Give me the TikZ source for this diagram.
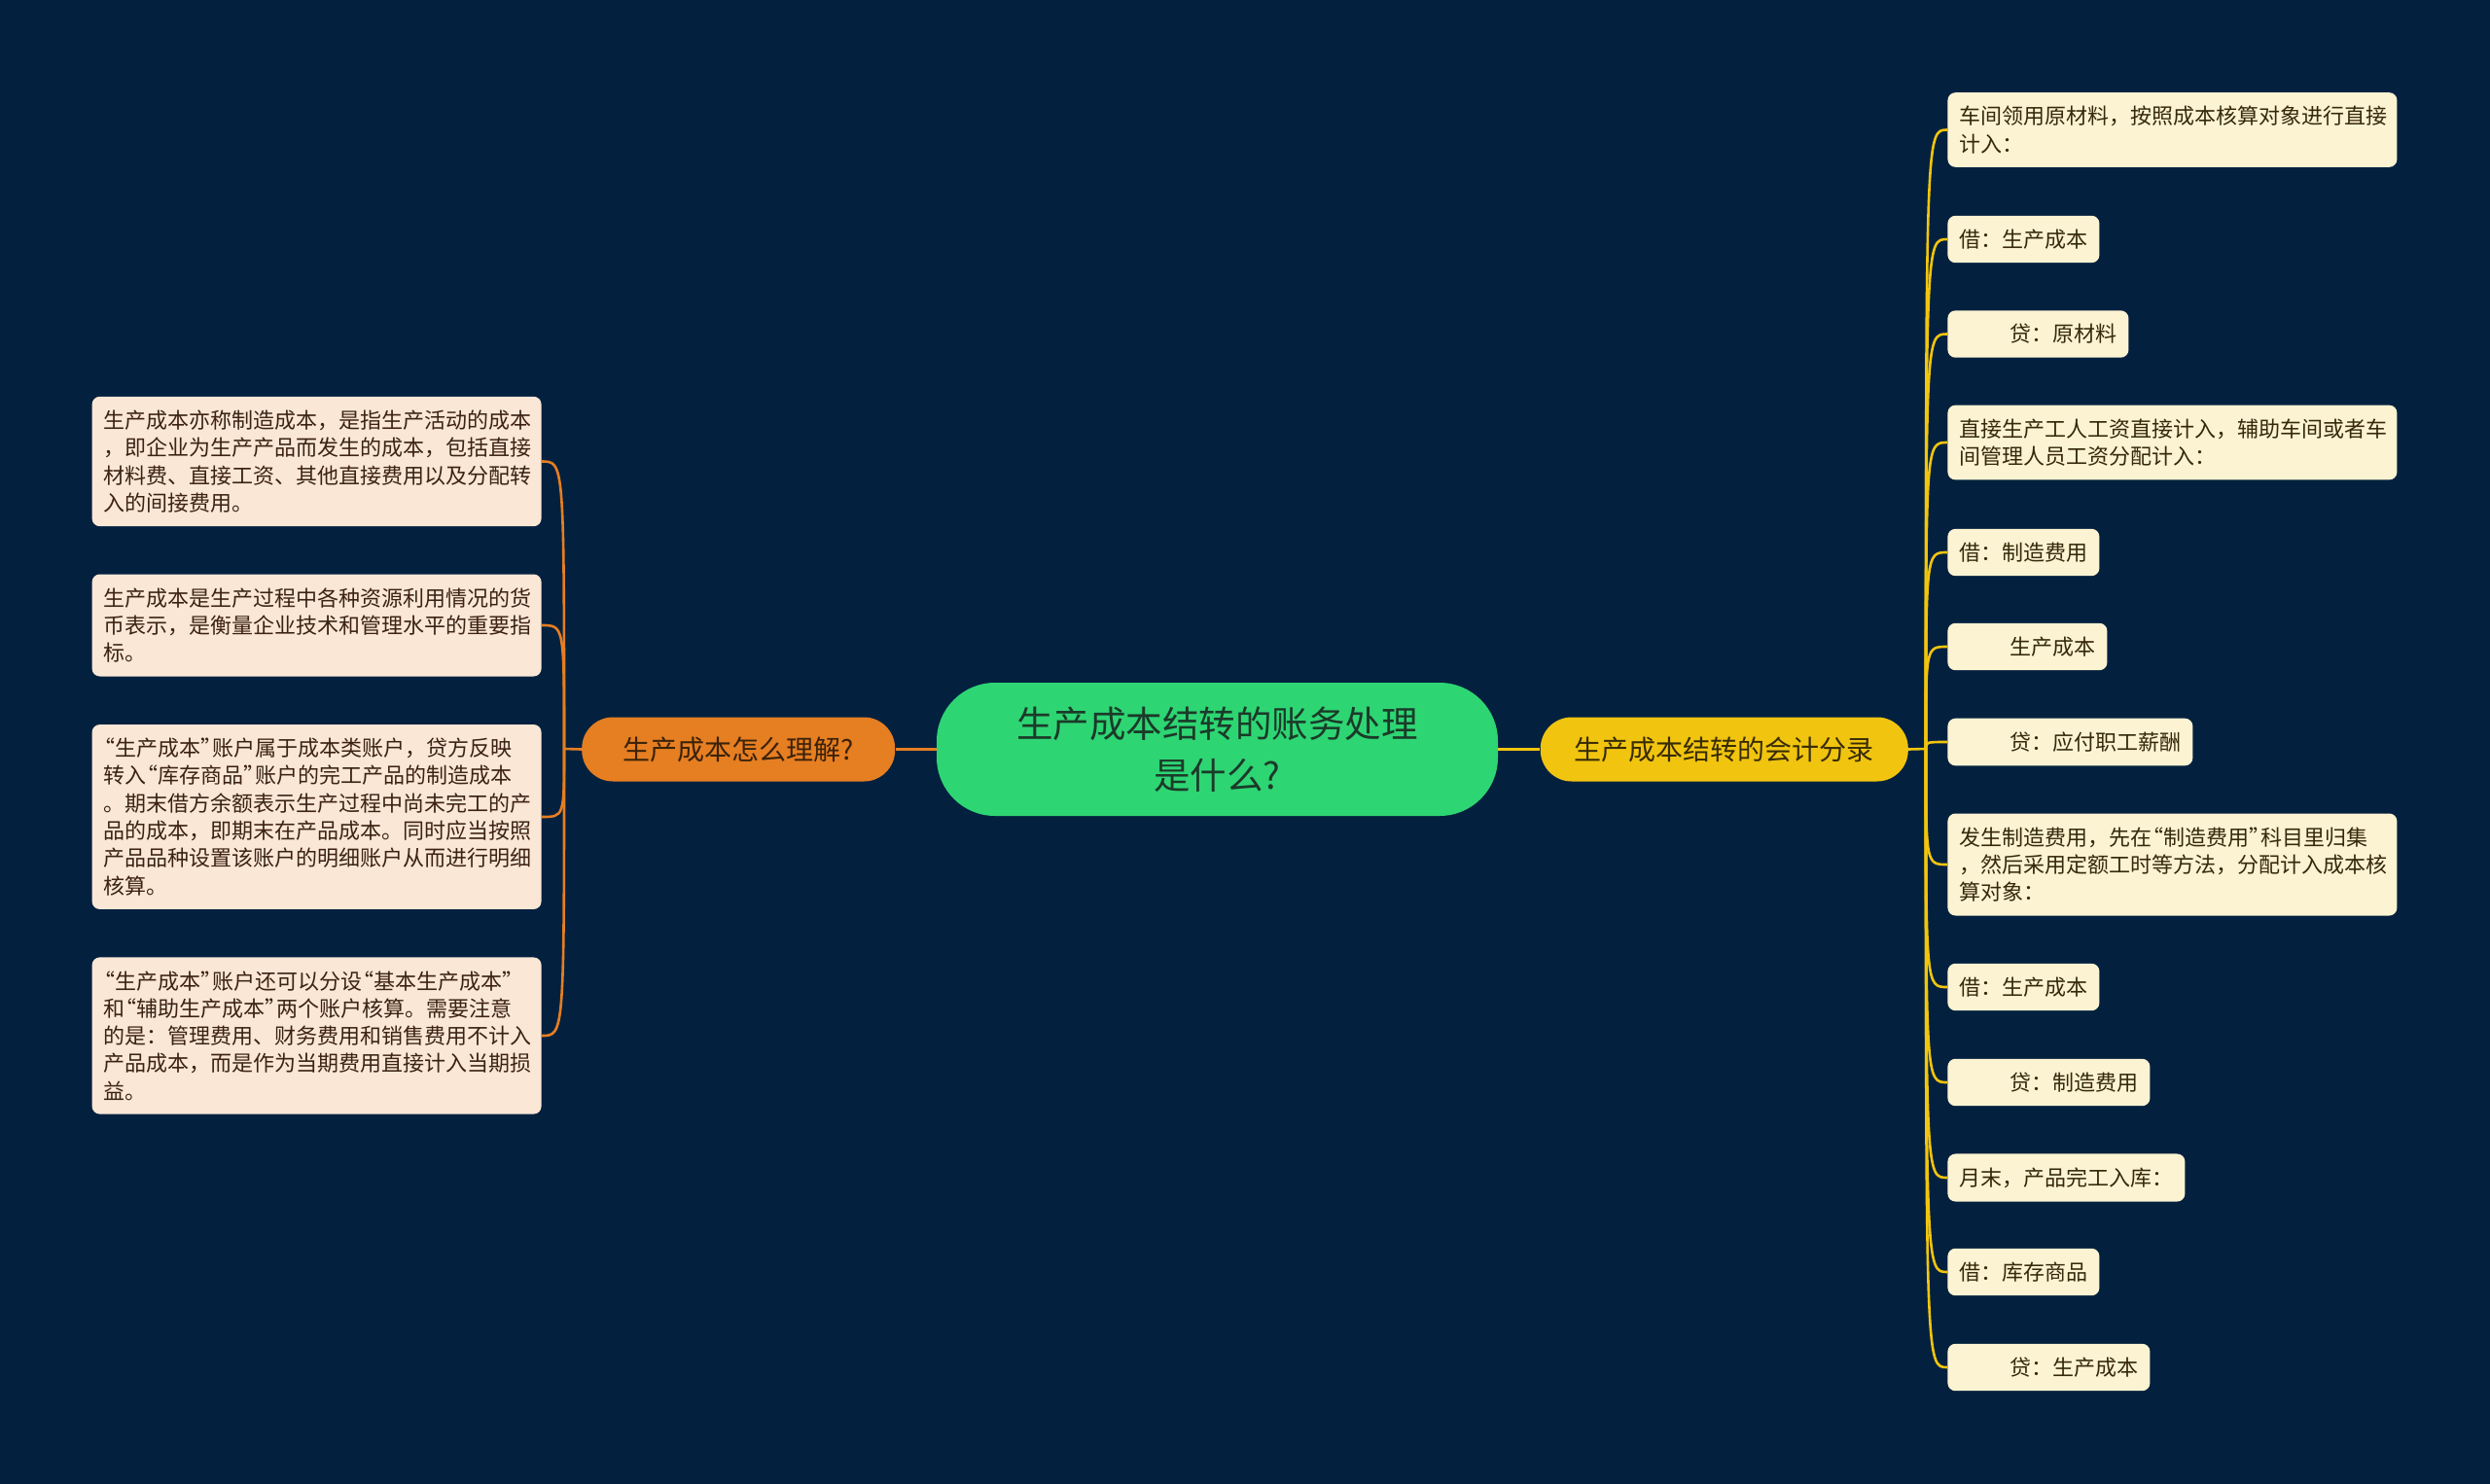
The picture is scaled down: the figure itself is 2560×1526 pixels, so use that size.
\documentclass[tikz,border=0pt]{standalone}
\usepackage{fontspec}
\setmainfont{Noto Sans CJK SC}
\usepackage{xcolor}
\usepackage{tikz}
\usetikzlibrary{positioning}

\definecolor{fond}{HTML}{03213F}
\definecolor{vert}{HTML}{2ED573}
\definecolor{orangeb}{HTML}{E67E22}
\definecolor{jaune}{HTML}{F1C40F}
\definecolor{peche}{HTML}{FBE7D6}
\definecolor{creme}{HTML}{FCF3D2}
\definecolor{texteV}{HTML}{1B3A29}
\definecolor{texteO}{HTML}{3B2209}
\definecolor{texteJ}{HTML}{372C05}
\definecolor{texteG}{HTML}{3C2212}
\definecolor{texteD}{HTML}{35290A}

% guillemets resserres
\newcommand{\gouv}{\hspace*{-0.45em}“}
\newcommand{\gferm}{”\hspace*{-0.45em}}

\begin{document}
\begin{tikzpicture}[x=0.5pt, y=-0.5pt,
    centre/.style={fill=vert, text=texteV, rounded corners=30pt, align=center,
        minimum width=288.5pt, minimum height=68.5pt,
        font=\fontsize{18.75pt}{26.5pt}\selectfont},
    brancheG/.style={fill=orangeb, text=texteO, rounded corners=16pt,
        minimum width=161pt, minimum height=33pt, font=\fontsize{14pt}{17pt}\selectfont},
    brancheD/.style={fill=jaune, text=texteJ, rounded corners=16pt,
        minimum width=189pt, minimum height=33pt, font=\fontsize{14pt}{17pt}\selectfont},
    feuilleG/.style={fill=peche, text=texteG, rounded corners=4pt, anchor=east,
        text width=219pt, align=left, inner xsep=6pt, inner ysep=7pt,
        font=\fontsize{11pt}{14.15pt}\selectfont},
    feuilleD/.style={fill=creme, text=texteD, rounded corners=4pt, anchor=west,
        align=left, inner xsep=6pt, inner ysep=7pt,
        font=\fontsize{11pt}{14.15pt}\selectfont},
    longue/.style={text width=219pt},
    lienG/.style={draw=orangeb, line width=1.3pt},
    lienD/.style={draw=jaune, line width=1.3pt}]

    \useasboundingbox (0,0) rectangle (2560,1526);
    \fill[fond] (0,0) rectangle (2560,1526);

    % Noeud central et branches
    \node[centre] (c) at (1251.5,770.5) {生产成本结转的账务处理\\是什么?};
    \node[brancheG, left=21pt of c] (bg) {生产成本怎么理解?};
    \node[brancheD, right=21.5pt of c] (bd) {生产成本结转的会计分录};

    \coordinate (sg) at (580,770);
    \coordinate (sd) at (1980,770);

    % Feuilles à gauche
    \node[feuilleG] (g1) at (557,474.5) {生产成本亦称制造成本，是指生产活动的成本\\，即企业为生产产品而发生的成本，包括直接\\材料费、直接工资、其他直接费用以及分配转\\入的间接费用。};
    \node[feuilleG] (g2) at (557,643) {生产成本是生产过程中各种资源利用情况的货\\币表示，是衡量企业技术和管理水平的重要指\\标。};
    \node[feuilleG] (g3) at (557,840) {\gouv 生产成本\gferm 账户属于成本类账户，贷方反映\\转入\gouv 库存商品\gferm 账户的完工产品的制造成本\\。期末借方余额表示生产过程中尚未完工的产\\品的成本，即期末在产品成本。同时应当按照\\产品品种设置该账户的明细账户从而进行明细\\核算。};
    \node[feuilleG] (g4) at (557,1065) {\gouv 生产成本\gferm 账户还可以分设\gouv 基本生产成本\gferm\\和\gouv 辅助生产成本\gferm 两个账户核算。需要注意\\的是：管理费用、财务费用和销售费用不计入\\产品成本，而是作为当期费用直接计入当期损\\益。};

    % Feuilles à droite
    \node[feuilleD, longue] (d1) at (2002,133.5) {车间领用原材料，按照成本核算对象进行直接\\计入：};
    \node[feuilleD] (d2) at (2002,246) {借：生产成本};
    \node[feuilleD] (d3) at (2002,343.5) {\hspace*{26pt}贷：原材料};
    \node[feuilleD, longue] (d4) at (2002,455) {直接生产工人工资直接计入，辅助车间或者车\\间管理人员工资分配计入：};
    \node[feuilleD] (d5) at (2002,568) {借：制造费用};
    \node[feuilleD] (d6) at (2002,665) {\hspace*{26pt}生产成本};
    \node[feuilleD] (d7) at (2002,763) {\hspace*{26pt}贷：应付职工薪酬};
    \node[feuilleD, longue] (d8) at (2002,889) {发生制造费用，先在\gouv 制造费用\gferm 科目里归集\\，然后采用定额工时等方法，分配计入成本核\\算对象：};
    \node[feuilleD] (d9) at (2002,1015) {借：生产成本};
    \node[feuilleD] (d10) at (2002,1113) {\hspace*{26pt}贷：制造费用};
    \node[feuilleD] (d11) at (2002,1211) {月末，产品完工入库：};
    \node[feuilleD] (d12) at (2002,1308) {借：库存商品};
    \node[feuilleD] (d13) at (2002,1406) {\hspace*{26pt}贷：生产成本};

    % Liens du centre
    \draw[lienG] (c.west) -- (bg.east);
    \draw[lienD] (c.east) -- (bd.west);
    \draw[lienG] (bg.west) -- (sg);
    \draw[lienD] (bd.east) -- (sd);

    % Liens courbes à gauche
    \draw[lienG] (sg) .. controls (sg |- g1.east) .. (g1.east);
    \draw[lienG] (sg) .. controls (sg |- g2.east) .. (g2.east);
    \draw[lienG] (sg) .. controls (sg |- g3.east) .. (g3.east);
    \draw[lienG] (sg) .. controls (sg |- g4.east) .. (g4.east);

    % Liens courbes à droite
    \draw[lienD] (sd) .. controls (sd |- d1.west) .. (d1.west);
    \draw[lienD] (sd) .. controls (sd |- d2.west) .. (d2.west);
    \draw[lienD] (sd) .. controls (sd |- d3.west) .. (d3.west);
    \draw[lienD] (sd) .. controls (sd |- d4.west) .. (d4.west);
    \draw[lienD] (sd) .. controls (sd |- d5.west) .. (d5.west);
    \draw[lienD] (sd) .. controls (sd |- d6.west) .. (d6.west);
    \draw[lienD] (sd) .. controls (sd |- d7.west) .. (d7.west);
    \draw[lienD] (sd) .. controls (sd |- d8.west) .. (d8.west);
    \draw[lienD] (sd) .. controls (sd |- d9.west) .. (d9.west);
    \draw[lienD] (sd) .. controls (sd |- d10.west) .. (d10.west);
    \draw[lienD] (sd) .. controls (sd |- d11.west) .. (d11.west);
    \draw[lienD] (sd) .. controls (sd |- d12.west) .. (d12.west);
    \draw[lienD] (sd) .. controls (sd |- d13.west) .. (d13.west);

\end{tikzpicture}
\end{document}
